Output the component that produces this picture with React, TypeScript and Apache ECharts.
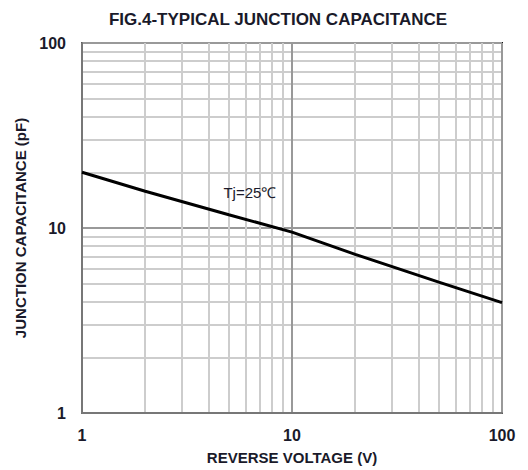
import React, { useEffect, useRef } from "react";
import * as echarts from "echarts";

const voltage = [1, 2, 5, 10, 20, 50, 100];
const capacitance = [20, 15.8, 11.8, 9.5, 7.2, 5.1, 3.95];
const labelText = "Tj=25℃";
const labelAt = [6.3, 15.6];

export default function App() {
  const ref = useRef<HTMLDivElement>(null);
  useEffect(() => {
    document.body.style.margin = "0";
    const chart = echarts.init(ref.current!, null, { renderer: "svg" });
    const font = "'Liberation Sans', Arial, sans-serif";
    const txt = "#1a1a2a";
    chart.setOption({
      animation: false,
      backgroundColor: "#fff",
      title: {
        text: "FIG.4-TYPICAL JUNCTION CAPACITANCE",
        left: 273,
        textAlign: "center",
        top: 6,
        textStyle: { fontFamily: font, fontSize: 17, fontWeight: "bold", color: txt },
      },
      grid: { left: 82, right: 26, top: 43, bottom: 55, show: true, borderColor: "#111", borderWidth: 2 },
      xAxis: {
        type: "log",
        logBase: 10,
        min: 1,
        max: 100,
        name: "REVERSE VOLTAGE (V)",
        nameLocation: "middle",
        nameGap: 37,
        nameTextStyle: { fontFamily: font, fontSize: 15, fontWeight: "bold", color: txt },
        axisLine: { lineStyle: { color: "#777", width: 2 } },
        axisTick: { show: false },
        axisLabel: { fontFamily: font, fontSize: 16, fontWeight: "bold", color: txt, margin: 14 },
        splitLine: { show: true, lineStyle: { color: "#999", width: 2 } },
        minorTick: { show: false, splitNumber: 9 },
        minorSplitLine: { show: true, lineStyle: { color: "#cdcdcd", width: 2 } },
      },
      yAxis: {
        type: "log",
        logBase: 10,
        min: 1,
        max: 100,
        name: "JUNCTION CAPACITANCE (pF)",
        nameLocation: "middle",
        nameGap: 52,
        nameTextStyle: { fontFamily: font, fontSize: 15, fontWeight: "bold", color: txt },
        axisLine: { lineStyle: { color: "#777", width: 2 } },
        axisTick: { show: false },
        axisLabel: { fontFamily: font, fontSize: 16, fontWeight: "bold", color: txt, margin: 16 },
        splitLine: { show: true, lineStyle: { color: "#999", width: 2 } },
        minorTick: { show: false, splitNumber: 9 },
        minorSplitLine: { show: true, lineStyle: { color: "#cdcdcd", width: 2 } },
      },
      series: [
        {
          type: "line",
          data: voltage.map((v, i) => [v, capacitance[i]]),
          smooth: false,
          showSymbol: false,
          lineStyle: { color: "#000", width: 3 },
          markPoint: {
            symbol: "circle",
            symbolSize: 0,
            data: [{ coord: labelAt }],
            label: {
              show: true,
              formatter: labelText,
              position: "inside",
              fontFamily: font,
              fontSize: 15,
              color: txt,
            },
          },
        },
      ],
    });
    return () => chart.dispose();
  }, []);
  return <div ref={ref} style={{ width: 528, height: 470 }} />;
}
